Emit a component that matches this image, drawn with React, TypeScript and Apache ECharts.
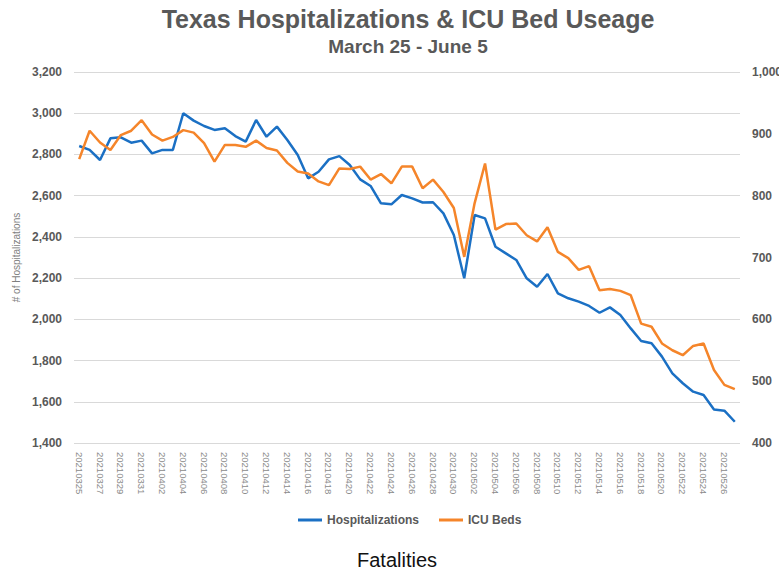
import React, { useEffect, useRef } from "react";
import * as echarts from "echarts";

const dates = [
  "20210325", "20210326", "20210327", "20210328", "20210329", "20210330", "20210331",
  "20210401", "20210402", "20210403", "20210404", "20210405", "20210406", "20210407", "20210408", "20210409", "20210410",
  "20210411", "20210412", "20210413", "20210414", "20210415", "20210416", "20210417", "20210418", "20210419", "20210420",
  "20210421", "20210422", "20210423", "20210424", "20210425", "20210426", "20210427", "20210428", "20210429", "20210430",
  "20210501", "20210502", "20210503", "20210504", "20210505", "20210506", "20210507", "20210508", "20210509", "20210510",
  "20210511", "20210512", "20210513", "20210514", "20210515", "20210516", "20210517", "20210518", "20210519", "20210520",
  "20210521", "20210522", "20210523", "20210524", "20210525", "20210526", "20210527",
];

const hospitalizations = [
  2841, 2822, 2773, 2878, 2883, 2857, 2867, 2805, 2822, 2822,
  3000, 2964, 2938, 2919, 2927, 2889, 2862, 2967, 2886, 2935,
  2870, 2797, 2684, 2716, 2776, 2792, 2749, 2679, 2647, 2563,
  2558, 2603, 2587, 2567, 2568, 2514, 2409, 2199, 2506, 2490,
  2352, 2320, 2288, 2199, 2158, 2220, 2126, 2102, 2086, 2065,
  2032, 2058, 2021, 1956, 1895, 1884, 1819, 1738, 1690, 1649,
  1633, 1563, 1557, 1503,
];

const icuBeds = [
  859, 905, 886, 874, 898, 905, 922, 899, 889, 895,
  906, 902, 885, 855, 882, 882, 879, 889, 877, 873,
  853, 839, 836, 823, 817, 844, 843, 847, 826, 835,
  820, 847, 847, 812, 826, 806, 780, 701, 788, 852,
  745, 754, 755, 736, 726, 749, 709, 699, 680, 686,
  647, 649, 646, 639, 593, 588, 561, 550, 542, 557,
  561, 518, 494, 487,
];

const titleText = "Texas Hospitalizations & ICU Bed Useage";
const subtitleText = "March 25 - June 5";
const captionText = "Fatalities";
const leftAxisName = "# of Hospitalizations";
const seriesNames = ["Hospitalizations", "ICU Beds"];

const BLUE = "#1b70c4";
const ORANGE = "#f5852a";
const GRAY = "#595959";

export default function App() {
  const ref = useRef<HTMLDivElement>(null);
  useEffect(() => {
    if (!ref.current) return;
    const chart = echarts.init(ref.current, undefined, { renderer: "svg" });
    const fmt = (v: number) => v.toLocaleString("en-US");
    chart.setOption({
      animation: false,
      backgroundColor: "#ffffff",
      textStyle: { fontFamily: "Liberation Sans, Arial, sans-serif" },
      graphic: [
        {
          type: "text",
          x: 408,
          y: 19,
          style: {
            text: titleText,
            fill: GRAY,
            font: "bold 25px 'Liberation Sans', Arial, sans-serif",
            textAlign: "center",
            textVerticalAlign: "middle",
          },
        },
        {
          type: "text",
          x: 408,
          y: 46,
          style: {
            text: subtitleText,
            fill: GRAY,
            font: "bold 19px 'Liberation Sans', Arial, sans-serif",
            textAlign: "center",
            textVerticalAlign: "middle",
          },
        },
        {
          type: "text",
          x: 397,
          y: 560,
          style: {
            text: captionText,
            fill: "#111111",
            font: "20px 'Liberation Sans', Arial, sans-serif",
            textAlign: "center",
            textVerticalAlign: "middle",
          },
        },
      ],
      legend: {
        top: 509,
        left: 293,
        itemWidth: 24,
        itemHeight: 3,
        itemGap: 20,
        icon: "rect",
        textStyle: { color: GRAY, fontSize: 12, fontWeight: "bold" },
        data: seriesNames,
      },
      grid: {
        left: 74,
        right: 39,
        top: 72,
        height: 371,
        containLabel: false,
        outerBoundsMode: "none",
      },
      xAxis: {
        type: "category",
        data: dates,
        boundaryGap: true,
        axisLine: { show: false },
        axisTick: { show: false },
        axisLabel: {
          interval: 1,
          rotate: -90,
          color: "#8a8a8a",
          fontSize: 9.5,
          margin: 9,
        },
      },
      yAxis: [
        {
          type: "value",
          min: 1400,
          max: 3200,
          interval: 200,
          name: leftAxisName,
          nameLocation: "middle",
          nameGap: 52,
          nameRotate: 90,
          nameTextStyle: { color: "#7f7f7f", fontSize: 10 },
          axisLine: { show: false },
          axisTick: { show: false },
          axisLabel: {
            formatter: fmt,
            color: GRAY,
            fontSize: 12,
            fontWeight: "bold",
            margin: 12,
          },
          splitLine: { lineStyle: { color: "#d9d9d9", width: 1 } },
        },
        {
          type: "value",
          min: 400,
          max: 1000,
          interval: 100,
          position: "right",
          axisLine: { show: false },
          axisTick: { show: false },
          axisLabel: {
            formatter: fmt,
            color: GRAY,
            fontSize: 12,
            fontWeight: "bold",
            margin: 12,
          },
          splitLine: { show: false },
        },
      ],
      series: [
        {
          name: seriesNames[0],
          type: "line",
          yAxisIndex: 0,
          data: hospitalizations,
          showSymbol: false,
          symbol: "none",
          lineStyle: { color: BLUE, width: 2.5 },
          itemStyle: { color: BLUE },
        },
        {
          name: seriesNames[1],
          type: "line",
          yAxisIndex: 1,
          data: icuBeds,
          showSymbol: false,
          symbol: "none",
          lineStyle: { color: ORANGE, width: 2.5 },
          itemStyle: { color: ORANGE },
        },
      ],
    });
    return () => chart.dispose();
  }, []);
  return (
    <div
      ref={ref}
      style={{ position: "fixed", left: 0, top: 0, width: 779, height: 587 }}
    />
  );
}
